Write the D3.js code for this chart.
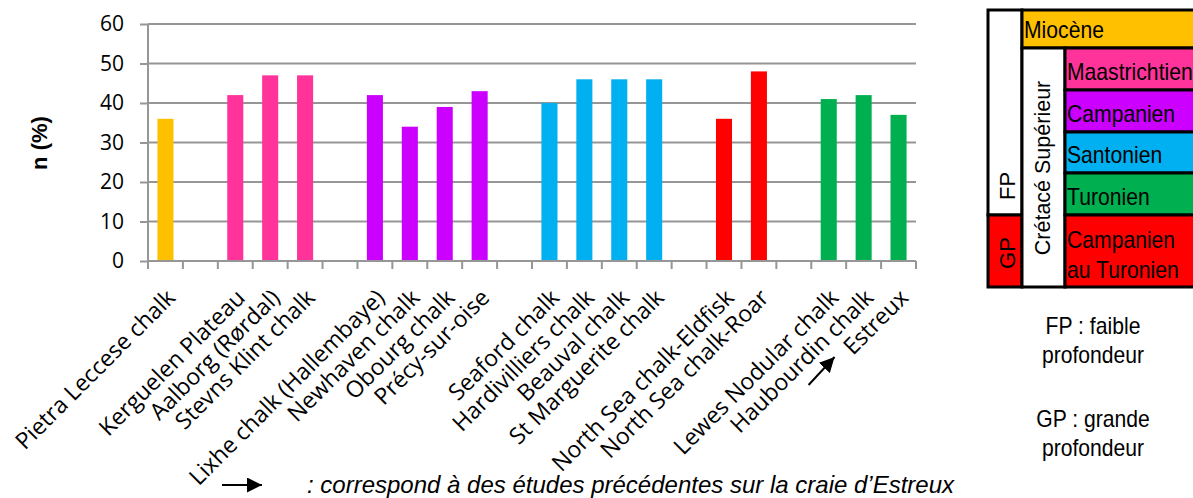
<!DOCTYPE html>
<html><head><meta charset="utf-8">
<script src="https://cdn.jsdelivr.net/npm/d3@7"></script>
<style>body{margin:0;background:#fff;} svg{display:block;}</style>
</head><body>
<svg id="c" width="1193" height="498"></svg>
<script>
// ---- data ----
const categories = ["Pietra Leccese chalk","","Kerguelen Plateau","Aalborg (Rørdal)","Stevns Klint chalk","",
  "Lixhe chalk (Hallembaye)","Newhaven chalk","Obourg chalk","Précy-sur-oise","",
  "Seaford chalk","Hardivilliers chalk","Beauval chalk","St Marguerite chalk","",
  "North Sea chalk-Eldfisk","North Sea chalk-Roar","","Lewes Nodular chalk","Haubourdin chalk","Estreux"];
const values = [36,null,42,47,47,null,42,34,39,43,null,40,46,46,46,null,36,48,null,41,42,37];
const barStage = [0,null,1,1,1,null,2,2,2,2,null,3,3,3,3,null,5,5,null,4,4,4];
const stageNames = ["Miocène","Maastrichtien","Campanien","Santonien","Turonien","Campanien au Turonien"];
const stageColors = ["#FFC000","#FF3399","#CC00FF","#00B0F0","#00B050","#FF0000"];
const yTicks = [0,10,20,30,40,50,60];
const yTitle = "n (%)";
const noteText = ": correspond à des études précédentes sur la craie d\u2019Estreux";
const depthNotes = [["FP : faible","profondeur"],["GP : grande","profondeur"]];

// ---- chart ----
const svg = d3.select("#c");
const gray = "#969696";
const x = d3.scaleBand().domain(d3.range(categories.length)).range([148, 916]).padding(0);
const y = d3.scaleLinear().domain([0, 60]).range([261, 24]);
const bw = x.bandwidth();

// gridlines
svg.append("g").selectAll("line").data(yTicks.filter(d => d > 0)).join("line")
  .attr("x1", 148).attr("x2", 916).attr("y1", d => y(d)).attr("y2", d => y(d))
  .attr("stroke", gray).attr("stroke-width", 2);

// bars
svg.append("g").selectAll("rect").data(values.map((v,i)=>({v,i})).filter(d => d.v != null)).join("rect")
  .attr("x", d => x(d.i) + bw/2 - bw*0.23)
  .attr("width", bw*0.46)
  .attr("y", d => y(d.v))
  .attr("height", d => y(0) - y(d.v))
  .attr("fill", d => stageColors[barStage[d.i]]);

// y axis
const yAxis = svg.append("g").attr("transform", "translate(148,0)")
  .call(d3.axisLeft(y).tickValues(yTicks).tickSize(8).tickPadding(16));
yAxis.select(".domain").attr("stroke", gray).attr("stroke-width", 2).attr("d", `M0,${y(60)}V${y(0)}`);
yAxis.selectAll(".tick line").attr("stroke", gray).attr("stroke-width", 2);
yAxis.selectAll(".tick text").attr("font-family", "Open Sans").attr("font-size", 21).attr("fill", "#000");

// x axis line + ticks at band boundaries
svg.append("line").attr("x1", 148).attr("x2", 916).attr("y1", y(0)).attr("y2", y(0))
  .attr("stroke", gray).attr("stroke-width", 2);
const bounds = d3.range(categories.length + 1).map(i => i < categories.length ? x(i) : x(i-1) + bw);
svg.append("g").selectAll("line").data(bounds).join("line")
  .attr("x1", d => d).attr("x2", d => d).attr("y1", y(0)).attr("y2", y(0) + 8)
  .attr("stroke", gray).attr("stroke-width", 2);

// x labels
svg.append("g").selectAll("text").data(categories.map((c,i)=>({c,i})).filter(d => d.c)).join("text")
  .attr("transform", d => `translate(${x(d.i) + bw/2 - 1},287) rotate(-45)`)
  .attr("text-anchor", "end").attr("dy", "0.75em")
  .attr("font-family", "Open Sans").attr("font-size", 23).attr("fill", "#000")
  .text(d => d.c);

// y title
svg.append("text").attr("transform", "translate(47,143) rotate(-90)")
  .attr("text-anchor", "middle").attr("font-family", "Liberation Sans, Arial").attr("font-weight", "bold")
  .attr("font-size", 22).text(yTitle);

// arrows
const defs = svg.append("defs");
defs.append("marker").attr("id", "ah").attr("viewBox", "0 0 10 10").attr("refX", 10).attr("refY", 5)
  .attr("markerWidth", 15).attr("markerHeight", 15).attr("markerUnits", "userSpaceOnUse").attr("orient", "auto")
  .append("path").attr("d", "M0,0L10,5L0,10Z").attr("fill", "#000");
svg.append("line").attr("x1", 222).attr("y1", 485).attr("x2", 262).attr("y2", 485)
  .attr("stroke", "#000").attr("stroke-width", 2).attr("marker-end", "url(#ah)");
const estIdx = categories.indexOf("Estreux");
const ax = x(estIdx) + bw/2;
svg.append("line").attr("x1", ax - 90).attr("y1", 385).attr("x2", ax - 64).attr("y2", 357)
  .attr("stroke", "#000").attr("stroke-width", 2).attr("marker-end", "url(#ah)");

svg.append("text").attr("x", 307).attr("y", 493).attr("font-family", "Liberation Sans, Arial")
  .attr("font-style", "italic").attr("font-size", 24).text(noteText);

// ---- legend table ----
const L = svg.append("g");
const lf = "Liberation Sans, Arial";
const fs = 23, sx = 0.92;
const ltext = (g, tx, ty, rot, anchor, t) => g.append("text")
  .attr("transform", `translate(${tx},${ty})` + (rot ? ` rotate(${rot})` : "") + ` scale(${sx},1)`)
  .attr("text-anchor", anchor).attr("font-family", lf).attr("font-size", fs).attr("fill", "#000").text(t);
const rowTops = [10, 48, 90, 132, 173, 215, 287];
const c0 = 988, c1 = 1022, c2 = 1065, cR = 1210;
const cell = (x0,y0,x1,y1,fill) => L.append("rect").attr("x",x0).attr("y",y0).attr("width",x1-x0).attr("height",y1-y0)
  .attr("fill",fill).attr("stroke","#000").attr("stroke-width",3);
cell(c0, rowTops[0], c1, rowTops[5], "#fff");
cell(c0, rowTops[5], c1, rowTops[6], stageColors[5]);
cell(c1, rowTops[0], cR, rowTops[1], stageColors[0]);
cell(c1, rowTops[1], c2, rowTops[6], "#fff");
for (let k = 1; k < stageNames.length; k++) cell(c2, rowTops[k], cR, rowTops[k+1], stageColors[k]);
ltext(L, 1024, rowTops[1] - 10, 0, "start", stageNames[0]);
for (let k = 1; k < 5; k++) ltext(L, 1067, rowTops[k+1] - 10, 0, "start", stageNames[k]);
const lastWords = stageNames[5].split(" ");
ltext(L, 1067, 248, 0, "start", lastWords[0]);
ltext(L, 1067, 278, 0, "start", lastWords.slice(1).join(" "));
L.append("text").attr("transform", "translate(1015,186) rotate(-90)").attr("text-anchor", "middle")
  .attr("font-family", lf).attr("font-size", 22).text("FP");
L.append("text").attr("transform", "translate(1015,253) rotate(-90)").attr("text-anchor", "middle")
  .attr("font-family", lf).attr("font-size", 22).text("GP");
L.append("text").attr("transform", "translate(1050,168) rotate(-90)").attr("text-anchor", "middle")
  .attr("font-family", lf).attr("font-size", 21.5).text("Crétacé Supérieur");
depthNotes.forEach((lines, j) => lines.forEach((t, k) =>
  ltext(svg, 1093, 334 + j*93 + k*29, 0, "middle", t)));
</script>
</body></html>
